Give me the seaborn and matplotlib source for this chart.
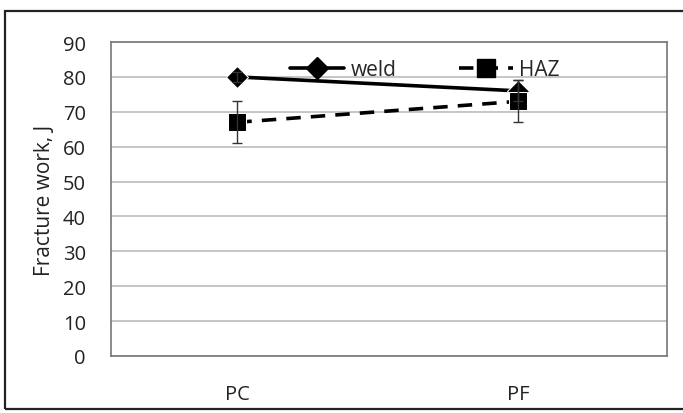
import pandas as pd
import seaborn as sns
import matplotlib.pyplot as plt
from matplotlib.patches import Rectangle

positions = ["PC", "PF"]
weld_mean = [80, 76]
weld_err = [1.5, 3]
haz_mean = [67, 73]
haz_err = [6, 6]

sns.set_style("white")
plt.rcParams['font.family'] = ['Open Sans', 'DejaVu Sans']

df = pd.DataFrame({
    "pos": [0, 1, 0, 1],
    "value": weld_mean + haz_mean,
    "series": ["weld", "weld", "HAZ", "HAZ"],
})

fig = plt.figure(figsize=(6.83, 4.14), dpi=100)
ax = fig.add_axes([0.1625, 0.1377, 0.814, 0.7583])

fig.patches.append(Rectangle((5 / 683, 4 / 414), 700 / 683, 1 - 16 / 414,
                             transform=fig.transFigure, fill=False,
                             edgecolor="#222222", linewidth=1.6))

dash = (4, 2.8)
sns.lineplot(data=df, x="pos", y="value", hue="series", style="series",
             palette={"weld": "black", "HAZ": "black"},
             dashes={"weld": "", "HAZ": dash},
             markers={"weld": "D", "HAZ": "s"}, linewidth=2.6,
             markersize=12, ax=ax, legend=False)
for line in ax.lines:
    if line.get_marker() == "D":
        line.set_markersize(11)
    elif line.get_marker() == "s":
        line.set_markersize(13)

ax.errorbar([0, 1], weld_mean, yerr=weld_err, fmt="none", ecolor="#333333",
            elinewidth=1, capsize=3.5)
ax.errorbar([0, 1], haz_mean, yerr=haz_err, fmt="none", ecolor="#333333",
            elinewidth=1, capsize=3.5)

ax.set_xlim(-0.45, 1.53)
ax.set_ylim(0, 90)
ax.set_yticks(range(0, 91, 10))
ax.set_xticks([0, 1])
ax.set_xticklabels(positions)
ax.tick_params(axis="both", length=0, labelsize=14.5, colors="#222222")
ax.tick_params(axis="y", pad=18)
ax.tick_params(axis="x", pad=20)
ax.yaxis.grid(True, color="#bbbbbb", linewidth=1.2)
ax.set_axisbelow(True)
for s in ax.spines.values():
    s.set_color("#777777")
    s.set_linewidth(1.2)
ax.set_xlabel("")
ax.set_ylabel("Fracture work, J", fontsize=15, color="#222222", labelpad=6)

h1, = ax.plot([], [], color="black", linewidth=2.6, marker="D", markersize=11)
h2, = ax.plot([], [], color="black", linewidth=2.6, linestyle=(0, dash),
              marker="s", markersize=13)
ax.legend([h1, h2], ["weld", "HAZ"], loc="upper center",
          bbox_to_anchor=(0.565, 1.005), ncol=2, frameon=False, fontsize=15,
          handlelength=2.6, columnspacing=3.0, handletextpad=0.3)

fig.savefig("out.png", dpi=100)
